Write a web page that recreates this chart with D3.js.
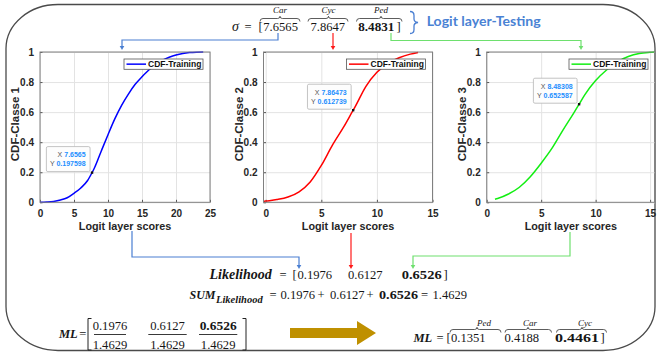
<!DOCTYPE html>
<html><head><meta charset="utf-8">
<script src="https://cdn.jsdelivr.net/npm/d3@7"></script>
<style>
html,body{margin:0;padding:0;background:#fff;}
svg{display:block;}
</style></head><body>
<svg id="fig" width="657" height="356"></svg>
<script>
// ---- CDF curves of the training logit scores, one per class ----
const carX = [0,1,2,3,4,5,6,7,7.6565,8,9,10,11,12,13,14,15,16,17,18,19,20,21,22,23,24];
const carY = [0,0.002,0.006,0.015,0.03,0.06,0.095,0.145,0.197598,0.228,0.34,0.45,0.555,0.645,0.72,0.785,0.835,0.88,0.915,0.945,0.965,0.98,0.99,0.996,0.999,1];
const cycX = [-0.2,0,1,2,3,4,5,6,7,7.86473,8,9,10,11,12,13,13.7];
const cycY = [0.006,0.008,0.018,0.035,0.07,0.135,0.245,0.38,0.5,0.612739,0.63,0.77,0.865,0.925,0.962,0.986,0.997];
const pedX = [0.76,1,2,3,4,5,6,7,8,8.48308,9,10,11,12,13,14,15,15.4];
const pedY = [0.02,0.025,0.055,0.1,0.17,0.26,0.36,0.48,0.595,0.652587,0.715,0.81,0.88,0.935,0.97,0.99,0.998,1];

// data-tip points (testing logits on each CDF)
const tipX = [7.6565, 7.86473, 8.48308];
const tipY = [0.197598, 0.612739, 0.652587];

// tick labels
const xTicksCar = [0,5,10,15,20,25];
const xTicksOther = [0,5,10,15];
const yTicks = [0,0.2,0.4,0.6,0.8,1];

// equation values
const sigmaLabels = ["Car","Cyc","Ped"];
const sigma = [7.6565, 7.8647, 8.4831];
const likelihood = [0.1976, 0.6127, 0.6526];
const sumLikelihood = 1.4629;
const mlLabels = ["Ped","Car","Cyc"];
const mlOut = [0.1351, 0.4188, 0.4461];

const svg = d3.select("#fig");
const SERIF = "'Liberation Serif','Times New Roman',serif";
const SANS = "'Liberation Sans',Arial,Helvetica,sans-serif";
const NUM = 12.6;

function tx(x, y, s, o = {}) {
  const t = svg.append("text").attr("x", x).attr("y", y).text(s)
    .attr("font-family", o.family || SERIF).attr("font-size", o.size || NUM)
    .attr("fill", o.fill || "#161616");
  if (o.weight) t.attr("font-weight", o.weight);
  if (o.style) t.attr("font-style", o.style);
  if (o.anchor) t.attr("text-anchor", o.anchor);
  if (o.len) t.attr("textLength", o.len).attr("lengthAdjust", "spacingAndGlyphs");
  return t;
}

// outer rounded frame
svg.append("rect").attr("x", 6).attr("y", 4.5).attr("width", 649).attr("height", 346)
  .attr("rx", 52).attr("ry", 44).attr("fill", "none").attr("stroke", "#4a4a4a").attr("stroke-width", 1.3);

// ---- the three CDF panels ----
const panels = [
  {xs: carX, ys: carY, color: "#0000ff", label: "CDF-Classe 1", left: 40, right: 210, domain: [0, 25], ticks: xTicksCar},
  {xs: cycX, ys: cycY, color: "#ff0000", label: "CDF-Classe 2", left: 263.5, right: 432.5, domain: [-0.2, 15], ticks: xTicksOther},
  {xs: pedX, ys: pedY, color: "#12ee12", label: "CDF-Classe 3", left: 486.7, right: 655, domain: [0, 15.45], ticks: xTicksOther}
];
const plotTop = 52, plotBottom = 202.3;
const y = d3.scaleLinear().domain([0, 1]).range([plotBottom, plotTop]);

panels.forEach((p, i) => {
  const x = d3.scaleLinear().domain(p.domain).range([p.left, p.right]);
  const g = svg.append("g");
  const w = p.right - p.left, h = plotBottom - plotTop;

  // grid
  g.append("g").attr("transform", `translate(0,${plotBottom})`)
    .call(d3.axisBottom(x).tickValues(p.ticks).tickSizeInner(-h).tickSizeOuter(0).tickFormat(""))
    .call(a => a.select(".domain").remove())
    .call(a => a.selectAll("line").attr("stroke", "#e3e3e3"));
  g.append("g").attr("transform", `translate(${p.left},0)`)
    .call(d3.axisLeft(y).tickValues(yTicks).tickSizeInner(-w).tickSizeOuter(0).tickFormat(""))
    .call(a => a.select(".domain").remove())
    .call(a => a.selectAll("line").attr("stroke", "#e3e3e3"));

  // axes with tick labels (ticks point inward)
  g.append("g").attr("transform", `translate(0,${plotBottom})`)
    .call(d3.axisBottom(x).tickValues(p.ticks).tickSizeInner(-2.5).tickSizeOuter(0).tickPadding(8).tickFormat(d3.format("d")))
    .call(a => a.select(".domain").remove())
    .call(a => a.selectAll("line").attr("stroke", "#555"))
    .call(a => a.selectAll("text").attr("font-family", SANS).attr("font-size", 10).attr("font-weight", "bold").attr("fill", "#262626"));
  g.append("g").attr("transform", `translate(${p.left},0)`)
    .call(d3.axisLeft(y).tickValues(yTicks).tickSizeInner(-2.5).tickSizeOuter(0).tickPadding(6).tickFormat(d => d === 0 || d === 1 ? d3.format("d")(d) : d3.format(".1f")(d)))
    .call(a => a.select(".domain").remove())
    .call(a => a.selectAll("line").attr("stroke", "#555"))
    .call(a => a.selectAll("text").attr("font-family", SANS).attr("font-size", 10).attr("font-weight", "bold").attr("fill", "#262626"));

  // curve
  const pts = p.xs.map((d, k) => [d, p.ys[k]]);
  g.append("path").datum(pts)
    .attr("d", d3.line().x(d => x(d[0])).y(d => y(d[1])).curve(d3.curveMonotoneX))
    .attr("fill", "none").attr("stroke", p.color).attr("stroke-width", 1.5);

  // box
  g.append("rect").attr("x", p.left).attr("y", plotTop).attr("width", w).attr("height", h)
    .attr("fill", "none").attr("stroke", "#808080").attr("stroke-width", 1);

  // axis titles
  g.append("text").attr("x", (p.left + p.right) / 2).attr("y", 229.5).attr("text-anchor", "middle")
    .attr("font-family", SANS).attr("font-size", 10.8).attr("font-weight", "bold").attr("fill", "#262626")
    .text("Logit layer scores");
  g.append("text").attr("transform", `translate(${p.left - 21},${(plotTop + plotBottom) / 2 - 3}) rotate(-90)`)
    .attr("text-anchor", "middle")
    .attr("font-family", SANS).attr("font-size", 11.5).attr("font-weight", "bold").attr("fill", "#262626")
    .text(p.label);

  // legend
  const lw = 79, lh = 10.3, lx = p.right - 7 - lw, ly = plotTop + 7;
  g.append("rect").attr("x", lx).attr("y", ly).attr("width", lw).attr("height", lh)
    .attr("fill", "#fff").attr("stroke", "#555").attr("stroke-width", 0.8);
  g.append("line").attr("x1", lx + 2.5).attr("x2", lx + 22).attr("y1", ly + lh / 2).attr("y2", ly + lh / 2)
    .attr("stroke", p.color).attr("stroke-width", 1.5);
  g.append("text").attr("x", lx + 24).attr("y", ly + lh / 2 + 3).attr("font-family", SANS)
    .attr("font-size", 8.5).attr("font-weight", "bold").attr("fill", "#111").text("CDF-Training");

  // data tip
  const px = x(tipX[i]), py = y(tipY[i]);
  const tip = g.append("g");
  const bx = tip.append("rect");
  const t1 = tip.append("text").attr("font-family", SANS).attr("font-size", 7).attr("text-anchor", "end");
  t1.append("tspan").attr("fill", "#555").text("X ");
  t1.append("tspan").attr("fill", "#1e8fff").attr("font-weight", "bold").text(String(tipX[i]));
  const t2 = tip.append("text").attr("font-family", SANS).attr("font-size", 7).attr("text-anchor", "end");
  t2.append("tspan").attr("fill", "#555").text("Y ");
  t2.append("tspan").attr("fill", "#1e8fff").attr("font-weight", "bold").text(String(tipY[i]));
  const tw = Math.max(t1.node().getComputedTextLength(), t2.node().getComputedTextLength());
  const bw = tw + 8, bh = 25;
  const brx = px - 2, bry = py - 1;
  bx.attr("x", brx - bw).attr("y", bry - bh).attr("width", bw).attr("height", bh).attr("rx", 1.5)
    .attr("fill", "#fdfdfd").attr("stroke", "#b5b5b5").attr("stroke-width", 0.8);
  t1.attr("x", brx - 4.4).attr("y", bry - bh + 10.8);
  t2.attr("x", brx - 4.4).attr("y", bry - bh + 19.8);
  g.append("rect").attr("x", px - 1.2).attr("y", py - 1.2).attr("width", 2.4).attr("height", 2.4).attr("fill", "#111");
});

// ---- connector arrows ----
const BLUE = "#4a7fd2", RED = "#ff1a1a", GREEN = "#6ee06e";
function connector(d, color) {
  svg.append("path").attr("d", d).attr("fill", "none").attr("stroke", color).attr("stroke-width", 1.2);
}
function head(xh, yh, color) {
  svg.append("path").attr("d", `M${xh - 2.3},${yh - 4} L${xh + 2.3},${yh - 4} L${xh},${yh} Z`).attr("fill", color);
}
connector("M278,33 V40 H122 V47", BLUE); head(122, 50, BLUE);
connector("M333,33 V47", RED); head(333, 50, RED);
connector("M391,33 V40.5 H581 V47", GREEN); head(581, 50, GREEN);
connector("M132,231 V257 H299 V266", BLUE); head(299, 269, BLUE);
connector("M351,233 V266", RED); head(351, 269, RED);
connector("M570,232 V256 H413 V266", GREEN); head(413, 269, GREEN);

// ---- over-brace helper ----
function brace(x1, x2, yb, peak) {
  const m = peak == null ? (x1 + x2) / 2 : peak;
  svg.append("path")
    .attr("d", `M${x1},${yb + 3} Q${x1},${yb} ${x1 + 3},${yb} L${m - 2.5},${yb} Q${m},${yb} ${m},${yb - 2.2} Q${m},${yb} ${m + 2.5},${yb} L${x2 - 3},${yb} Q${x2},${yb} ${x2},${yb + 3}`)
    .attr("fill", "none").attr("stroke", "#333").attr("stroke-width", 0.8);
}

// ---- sigma row ----
const sigX = [263.3, 310.5, 358.3];
const sigBr = [[260, 300, 280], [308, 348, 328.5], [356.5, 402, 381]];
tx(232, 31, "σ", {style: "italic", size: 14});
tx(248, 31, "=", {anchor: "middle"});
tx(258.5, 31, "[");
sigma.forEach((v, k) => {
  tx(sigX[k], 31, v.toFixed(4), k === 2 ? {weight: "bold", len: 36} : {});
  brace(sigBr[k][0], sigBr[k][1], 18.5, sigBr[k][2]);
  tx(sigBr[k][2], 13.3, sigmaLabels[k], {style: "italic", size: 9, anchor: "middle"});
});
tx(396.5, 31, "]");

// "Logit layer-Testing" curly brace and caption
svg.append("path")
  .attr("d", "M410,11.5 Q414,11.5 414,15.5 L414,19 Q414,22 418,22.5 Q414,23 414,26 L414,29.5 Q414,33.5 410,33.5")
  .attr("fill", "none").attr("stroke", BLUE).attr("stroke-width", 1.3);
tx(426.7, 25.5, "Logit layer-Testing", {family: "Lato,'Open Sans',sans-serif", size: 12.5, weight: "bold", fill: "#4a82d4", len: 114});

// ---- likelihood row ----
const likX = [297.5, 348, 401.7];
tx(209.5, 278.5, "Likelihood", {style: "italic", weight: "bold", size: 14});
tx(283, 278.5, "=", {anchor: "middle"});
tx(292.5, 278.5, "[");
likelihood.forEach((v, k) => tx(likX[k], 278.5, v.toFixed(4), k === 2 ? {weight: "bold", len: 40} : {}));
tx(443.5, 278.5, "]");

// ---- sum row ----
tx(189.5, 299, "SUM", {style: "italic", weight: "bold", size: 12});
tx(216, 302.5, "Likelihood", {style: "italic", weight: "bold", size: 10.5});
tx(273, 299, "=", {anchor: "middle"});
const sumX = [280.5, 330, 379];
likelihood.forEach((v, k) => tx(sumX[k], 299, v.toFixed(4), k === 2 ? {weight: "bold", len: 39} : {}));
tx(321, 299, "+", {anchor: "middle"});
tx(370, 299, "+", {anchor: "middle"});
tx(424.5, 299, "=", {anchor: "middle"});
tx(432.5, 299, sumLikelihood.toFixed(4));

// ---- ML as fractions ----
tx(59, 338, "ML", {style: "italic", weight: "bold", size: 12.5});
tx(82.8, 338, "=", {anchor: "middle"});
svg.append("path").attr("d", "M91.5,318.5 H88 V350 H91.5").attr("fill", "none").attr("stroke", "#222").attr("stroke-width", 1);
svg.append("path").attr("d", "M242.5,318.5 H246 V350 H242.5").attr("fill", "none").attr("stroke", "#222").attr("stroke-width", 1);
const fracL = [94, 148.3, 199], fracR = [126, 186.7, 237.3];
likelihood.forEach((v, k) => {
  const c = (fracL[k] + fracR[k]) / 2;
  tx(c, 330, v.toFixed(4), k === 2 ? {anchor: "middle", weight: "bold", len: 37} : {anchor: "middle"});
  svg.append("line").attr("x1", fracL[k]).attr("x2", fracR[k]).attr("y1", 334.5).attr("y2", 334.5)
    .attr("stroke", "#222").attr("stroke-width", 0.9);
  tx(c, 348.5, sumLikelihood.toFixed(4), {anchor: "middle"});
});

// ---- gold arrow ----
svg.append("path").attr("d", "M290,328 H357 V321 L376,333 L357,345 V338 H290 Z").attr("fill", "#bf9000");

// ---- final ML row ----
const mlBase = 341.5;
tx(413.5, mlBase, "ML", {style: "italic", weight: "bold", size: 12.5});
tx(440, mlBase, "=", {anchor: "middle"});
tx(446.5, mlBase, "[");
const mlX = [451, 504.5, 555];
const mlBr = [[450, 501, 477], [505, 551.5, 528], [556.5, 606.5, 582]];
const mlLx = [484, 530, 585];
mlOut.forEach((v, k) => {
  tx(mlX[k], mlBase, v.toFixed(4), k === 2 ? {weight: "bold", len: 44} : {});
  brace(mlBr[k][0], mlBr[k][1], 329.5, mlBr[k][2]);
  tx(mlLx[k], 325.5, mlLabels[k], {style: "italic", size: 9, anchor: "middle"});
});
tx(600.5, mlBase, "]");
</script>
</body></html>
